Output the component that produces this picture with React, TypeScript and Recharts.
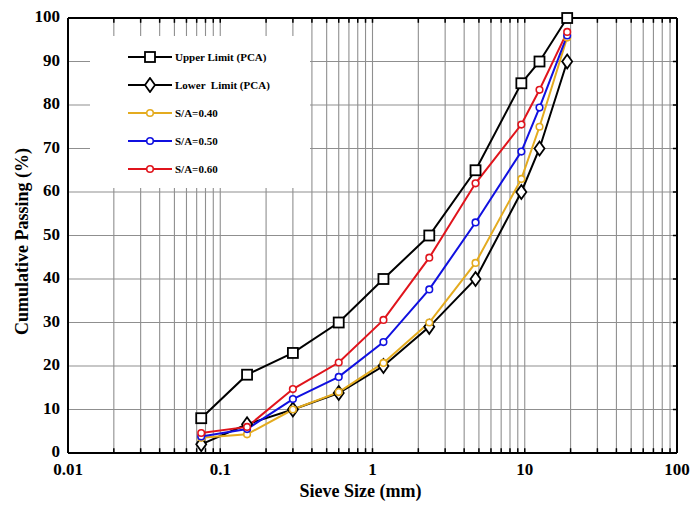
import React from "react";
import { LineChart, Line, XAxis, YAxis, CartesianGrid, ReferenceLine, Legend } from "recharts";

const sieveSizes = [0.075, 0.15, 0.3, 0.6, 1.18, 2.36, 4.75, 9.5, 12.5, 19];
const upperLimit = [8, 18, 23, 30, 40, 50, 65, 85, 90, 100];
const lowerLimit = [2, 6.6, 10, 13.8, 20, 29, 40, 60, 70, 90];
const sa040 = [3.5, 4.3, 10, 14, 20.7, 30, 43.7, 63, 75, 95.5];
const sa050 = [3.8, 5.5, 12.4, 17.5, 25.5, 37.6, 53, 69.3, 79.4, 96];
const sa060 = [4.6, 6, 14.7, 20.8, 30.6, 44.9, 62, 75.5, 83.5, 96.8];

const xTicks = [0.01, 0.1, 1, 10, 100];
const yTicks = [0, 10, 20, 30, 40, 50, 60, 70, 80, 90, 100];
const decades = [0.01, 0.1, 1, 10];
const multiples = [1, 2, 3, 4, 5, 6, 7, 8, 9];

const gridX = decades
  .flatMap((d) => multiples.map((m) => Number((d * m).toPrecision(3))))
  .filter((v) => v > 0.01);
const gridY = yTicks.filter((v) => v > 0 && v < 100);

const data = sieveSizes.map((s, i) => ({
  size: s,
  upper: upperLimit[i],
  lower: lowerLimit[i],
  s40: sa040[i],
  s50: sa050[i],
  s60: sa060[i],
}));

const FONT = "'Liberation Serif', 'Times New Roman', serif";
const GRID = "#8f8f8f";

type Marker = "square" | "diamond" | "circle";
const series: { key: string; name: string; color: string; marker: Marker }[] = [
  { key: "upper", name: "Upper Limit (PCA)", color: "#000000", marker: "square" },
  { key: "lower", name: "Lower  Limit (PCA)", color: "#000000", marker: "diamond" },
  { key: "s40", name: "S/A=0.40", color: "#e4ab1f", marker: "circle" },
  { key: "s50", name: "S/A=0.50", color: "#1010e0", marker: "circle" },
  { key: "s60", name: "S/A=0.60", color: "#e0141c", marker: "circle" },
];

function drawMarker(marker: Marker, color: string, cx: number, cy: number, key?: any) {
  if (marker === "square") {
    return <rect key={key} x={cx - 5} y={cy - 5} width={10} height={10} fill="#fff" stroke={color} strokeWidth={1.8} />;
  }
  if (marker === "diamond") {
    return (
      <path
        key={key}
        d={`M${cx},${cy - 7} L${cx + 5},${cy} L${cx},${cy + 7} L${cx - 5},${cy} Z`}
        fill="#fff"
        stroke={color}
        strokeWidth={1.8}
      />
    );
  }
  return <circle key={key} cx={cx} cy={cy} r={3.3} fill="#fff" stroke={color} strokeWidth={1.6} />;
}

const LegendBox = () => (
  <div style={{ background: "#fff", width: 220, height: 152, paddingTop: 7, boxSizing: "border-box" }}>
    {series.map((s) => (
      <div key={s.key} style={{ height: 28, display: "flex", alignItems: "center" }}>
        <svg width={44} height={16} style={{ marginLeft: 38, display: "block" }}>
          <line x1={0} y1={8} x2={44} y2={8} stroke={s.color} strokeWidth={s.marker === "circle" ? 2 : 2.2} />
          {drawMarker(s.marker, s.color, 22, 8)}
        </svg>
        <span style={{ marginLeft: 3, fontFamily: FONT, fontWeight: "bold", fontSize: 11, color: "#000", whiteSpace: "pre" }}>
          {s.name}
        </span>
      </div>
    ))}
  </div>
);

export default function App() {
  return (
    <div style={{ width: 694, height: 509 }}>
      <style>{"body{margin:0} html{overflow:hidden}"}</style>
      <LineChart
        width={694}
        height={509}
        data={data}
        margin={{ top: 18, right: 17, bottom: 16, left: 18 }}
      >
        <CartesianGrid vertical={false} stroke={GRID} strokeWidth={1.1} />
        {gridX.map((v) => (
          <ReferenceLine key={"gx" + v} x={v} stroke={GRID} strokeWidth={1.1} />
        ))}
        {gridX.map((v) => (
          <ReferenceLine
            key={"tb" + v}
            segment={[{ x: v, y: 0 }, { x: v, y: 1.1 }]}
            stroke="#000"
            strokeWidth={1.5}
          />
        ))}
        {gridX.map((v) => (
          <ReferenceLine
            key={"tt" + v}
            segment={[{ x: v, y: 98.9 }, { x: v, y: 100 }]}
            stroke="#000"
            strokeWidth={1.5}
          />
        ))}
        {gridY.map((v) => (
          <ReferenceLine
            key={"tr" + v}
            segment={[{ x: 94, y: v }, { x: 100, y: v }]}
            stroke="#000"
            strokeWidth={1.5}
          />
        ))}
        <ReferenceLine x={100} stroke="#000" strokeWidth={2} />
        <ReferenceLine y={100} stroke="#000" strokeWidth={2} />
        <XAxis
          dataKey="size"
          type="number"
          scale="log"
          domain={[0.01, 100]}
          ticks={xTicks}
          interval={0}
          allowDataOverflow
          height={40}
          stroke="#000"
          strokeWidth={2}
          tickLine={false}
          tickMargin={4}
          tick={{ fill: "#000", fontFamily: FONT, fontWeight: "bold", fontSize: 17 }}
          tickFormatter={(v: number) => String(v)}
          label={{
            content: (p: any) => {
              const vb = p.viewBox || {};
              return (
                <text
                  x={vb.x + vb.width / 2 - 12}
                  y={vb.y + 44}
                  textAnchor="middle"
                  fontFamily={FONT}
                  fontWeight="bold"
                  fontSize={18}
                  fill="#000"
                >
                  Sieve Size (mm)
                </text>
              );
            },
          }}
        />
        <YAxis
          type="number"
          domain={[0, 100]}
          ticks={yTicks}
          interval={0}
          width={50}
          stroke="#000"
          strokeWidth={2}
          tickLine={false}
          tick={{ fill: "#000", fontFamily: FONT, fontWeight: "bold", fontSize: 17, dy: -2 }}
          label={{
            content: (p: any) => {
              const vb = p.viewBox || {};
              const cx = vb.x + 4;
              const cy = vb.y + vb.height / 2 + 6;
              return (
                <text
                  x={cx}
                  y={cy}
                  transform={`rotate(-90, ${cx}, ${cy})`}
                  textAnchor="middle"
                  dominantBaseline="central"
                  fontFamily={FONT}
                  fontWeight="bold"
                  fontSize={18}
                  fill="#000"
                >
                  Cumulative Passing (%)
                </text>
              );
            },
          }}
        />
        <Legend
          layout="vertical"
          align="center"
          verticalAlign="middle"
          content={() => <LegendBox />}
          wrapperStyle={{ left: 90, top: 36, width: 220, height: 152 }}
        />
        {series.map((s) => (
          <Line
            key={s.key}
            dataKey={s.key}
            name={s.name}
            stroke={s.color}
            strokeWidth={2}
            isAnimationActive={false}
            dot={(p: any) => drawMarker(s.marker, s.color, p.cx, p.cy, p.key || `${s.key}-${p.index}`)}
            activeDot={false}
          />
        ))}
      </LineChart>
    </div>
  );
}
